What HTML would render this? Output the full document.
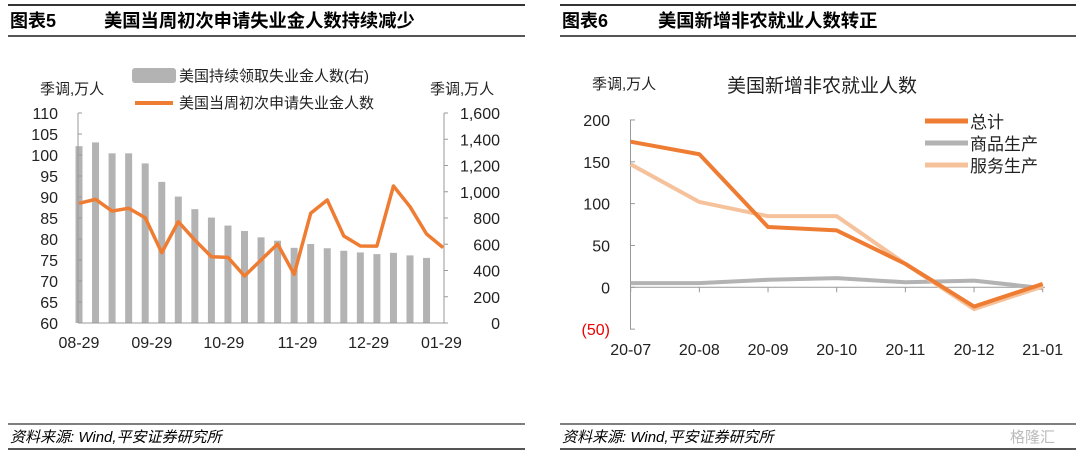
<!DOCTYPE html>
<html><head><meta charset="utf-8">
<style>
body{margin:0;width:1080px;height:454px;background:#fff;overflow:hidden;font-family:"Liberation Sans","Noto Sans CJK SC",sans-serif;}
svg text{font-family:"Liberation Sans","Noto Sans CJK SC",sans-serif;}
</style></head>
<body>
<svg id="s" width="1080" height="454" xmlns="http://www.w3.org/2000/svg">
<g>
<line x1="8" y1="5" x2="525" y2="5" stroke="#333" stroke-width="2"/>
<text x="10" y="27" font-size="18" font-weight="bold" fill="#000">图表5</text>
<text x="104" y="27" font-size="18.3" font-weight="bold" fill="#000">美国当周初次申请失业金人数持续减少</text>
<line x1="8" y1="36" x2="525" y2="36" stroke="#555" stroke-width="2"/>
</g>
<g>
<line x1="560" y1="5" x2="1076" y2="5" stroke="#333" stroke-width="2"/>
<text x="562" y="27" font-size="18" font-weight="bold" fill="#000">图表6</text>
<text x="658" y="27" font-size="18.3" font-weight="bold" fill="#000">美国新增非农就业人数转正</text>
<line x1="560" y1="36" x2="1076" y2="36" stroke="#555" stroke-width="2"/>
</g>
<g>
<line x1="8" y1="424" x2="525" y2="424" stroke="#555" stroke-width="1.5"/>
<line x1="8" y1="449" x2="525" y2="449" stroke="#555" stroke-width="2"/>
<text x="10" y="442" font-size="15" font-style="italic" fill="#000">资料来源: Wind,平安证券研究所</text>
<line x1="560" y1="424" x2="1076" y2="424" stroke="#555" stroke-width="1.5"/>
<line x1="560" y1="449" x2="1076" y2="449" stroke="#555" stroke-width="2"/>
<text x="562" y="442" font-size="15" font-style="italic" fill="#000">资料来源: Wind,平安证券研究所</text>
<text x="1010" y="442" font-size="15" fill="#bbb">格隆汇</text>
</g>
<g id="left"></g>
<g id="right"></g>
</svg>
<script>
const barValues=[102.1,103.0,100.4,100.4,98.0,93.6,90.1,87.1,85.1,83.2,81.9,80.4,79.6,77.9,78.8,77.8,77.2,76.8,76.4,76.7,76.1,75.5];
const lineValues=[912,942,853,874,802,536,772,632,505,500,358,480,602,371,836,937,663,587,586,1044,886,678,574];
const leftTicks=[60,65,70,75,80,85,90,95,100,105,110];
const rightTicks=[0,200,400,600,800,1000,1200,1400,1600];
const dateLabels=['08-29','09-29','10-29','11-29','12-29','01-29'];
const dateIdx=[0,4.4,8.75,13.2,17.5,21.9];
const months=['20-07','20-08','20-09','20-10','20-11','20-12','21-01'];
const totalVals=[174,159,72,68,28,-23,4];
const goodsVals=[5,5,9,11,6,8,-1];
const servVals=[147,102,85,85,28,-26,1];
const rTicks=[-50,0,50,100,150,200];
const NS='http://www.w3.org/2000/svg';
function mk(p,t,a,txt){const e=document.createElementNS(NS,t);for(const k in a)e.setAttribute(k,a[k]);if(txt!==undefined)e.textContent=txt;p.appendChild(e);return e;}
const L=document.getElementById('left');
const lx=i=>79+i*16.55, ly=v=>323-(v-60)*4.2, ry=v=>323-v*210/1600;
barValues.forEach((v,i)=>{const b=mk(L,'rect',{x:lx(i)-3.5,y:ly(v),width:7,height:323-ly(v),fill:'#b3b3b3'});

});
mk(L,'line',{x1:78,y1:113,x2:78,y2:323,stroke:'#999'});
mk(L,'line',{x1:444,y1:113,x2:444,y2:323,stroke:'#999'});
mk(L,'line',{x1:78,y1:323,x2:446,y2:323,stroke:'#999'});
leftTicks.forEach(v=>{mk(L,'line',{x1:78,y1:ly(v),x2:82,y2:ly(v),stroke:'#999'});
const t=mk(L,'text',{x:58,y:ly(v)+6,'font-size':16,'text-anchor':'end',fill:'#222'},v);

});
rightTicks.forEach(v=>{mk(L,'line',{x1:444,y1:ry(v),x2:448,y2:ry(v),stroke:'#999'});
const t=mk(L,'text',{x:500,y:ry(v)+6,'font-size':16,'text-anchor':'end',fill:'#222'},v.toLocaleString('en-US'));

});
dateLabels.forEach((d,i)=>{const t=mk(L,'text',{x:lx(dateIdx[i]),y:348,'font-size':16,'text-anchor':'middle',fill:'#222'},d);

});
const pl=mk(L,'polyline',{points:lineValues.map((v,i)=>lx(i)+','+ry(v)).join(' '),fill:'none',stroke:'#ee7d33','stroke-width':3.5,'stroke-linejoin':'round'});


mk(L,'text',{x:40,y:94,'font-size':15,fill:'#222'},'季调,万人');
mk(L,'text',{x:430,y:94,'font-size':15,fill:'#222'},'季调,万人');
mk(L,'rect',{x:132,y:68,width:44,height:15,rx:3,fill:'#b3b3b3'});
mk(L,'text',{x:179,y:81,'font-size':15,fill:'#222'},'美国持续领取失业金人数(右)');
mk(L,'line',{x1:135,y1:103,x2:173,y2:103,stroke:'#ee7d33','stroke-width':4});
mk(L,'text',{x:179,y:108,'font-size':15,fill:'#222'},'美国当周初次申请失业金人数');
const R=document.getElementById('right');
const mx=i=>630.7+i*68.67, my=v=>287.3-v*0.8367;
mk(R,'line',{x1:630.5,y1:my(200),x2:630.5,y2:my(-50),stroke:'#999'});
mk(R,'line',{x1:630,y1:my(0),x2:1045,y2:my(0),stroke:'#999'});
rTicks.forEach(v=>{mk(R,'line',{x1:630,y1:my(v),x2:635,y2:my(v),stroke:'#999'});
const t=mk(R,'text',{x:610,y:my(v)+6,'font-size':16,'text-anchor':'end',fill:v<0?'#e00':'#222'},v<0?'('+(-v)+')':v);

});
months.forEach((m,i)=>{mk(R,'line',{x1:mx(i),y1:my(0),x2:mx(i),y2:my(0)+5,stroke:'#999'});
const t=mk(R,'text',{x:mx(i),y:355,'font-size':16,'text-anchor':'middle',fill:'#222'},m);

});
[[goodsVals,'#b3b3b3','goods-line'],[servVals,'#f6c29c','services-line'],[totalVals,'#ee7d33','total-line']].forEach(s=>{
const p=mk(R,'polyline',{points:s[0].map((v,i)=>mx(i)+','+my(v)).join(' '),fill:'none',stroke:s[1],'stroke-width':4,'stroke-linejoin':'round'});

});
mk(R,'text',{x:592,y:89,'font-size':15,fill:'#222'},'季调,万人');
mk(R,'text',{x:727,y:92,'font-size':19,fill:'#222'},'美国新增非农就业人数');
[['总计','#ee7d33'],['商品生产','#b3b3b3'],['服务生产','#f6c29c']].forEach((e,i)=>{const y=121+i*22;
mk(R,'line',{x1:925,y1:y,x2:968,y2:y,stroke:e[1],'stroke-width':5});
mk(R,'text',{x:970,y:y+7,'font-size':17,fill:'#222'},e[0]);});
</script>
</body></html>
